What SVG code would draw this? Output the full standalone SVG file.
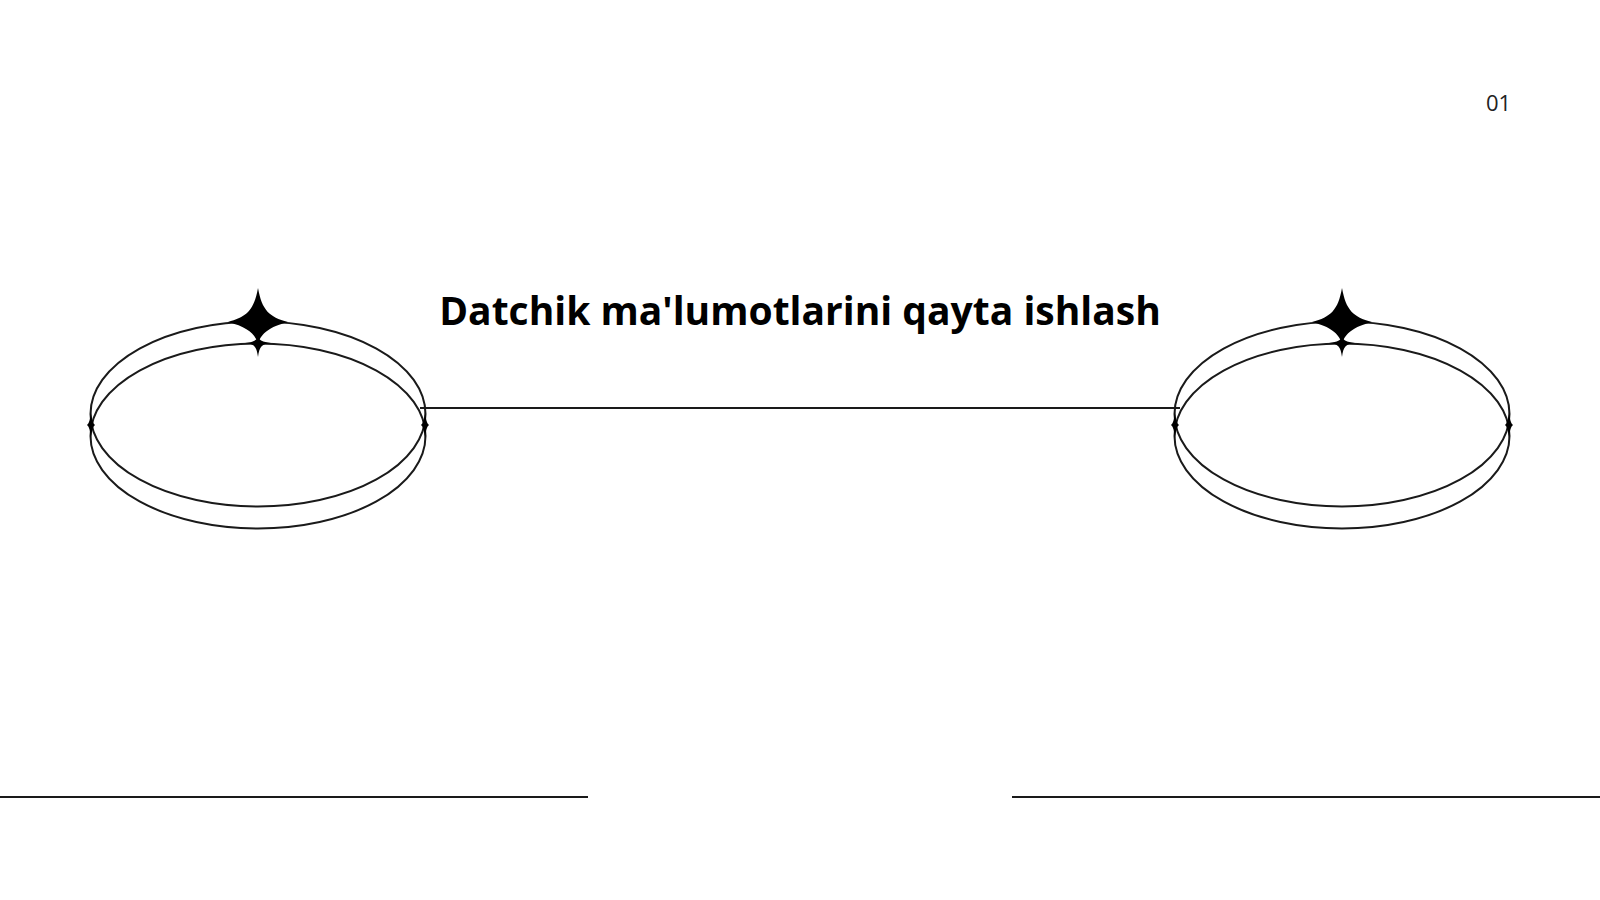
<svg xmlns="http://www.w3.org/2000/svg" width="1600" height="900" viewBox="0 0 1600 900">
<defs>
<style>
.ring{fill:none;stroke:#1a1a1a;stroke-width:2}
.ln{stroke:#1a1a1a;stroke-width:2}
.star{fill:#000}
.title{font-family:"Open Sans","Liberation Sans",sans-serif;font-weight:700;font-size:39px;fill:#000}
.num{font-family:"Open Sans","Liberation Sans",sans-serif;font-size:22px;font-weight:500;fill:#222}
</style>
<path id="bigstar" d="M0,-34 C4,-12 11,-5 30,0 C11,5 4,11 0,21 C-4,11 -11,5 -30,0 C-11,-5 -4,-12 0,-34Z"/>
<path id="smallstar" d="M0,-6 C1.5,-3 4,-1 13,0 C4,1 1.5,3 0,14 C-1.5,3 -4,1 -13,0 C-4,-1 -1.5,-3 0,-6Z"/>
<path id="sidestar" d="M0,-14 C0.8,-5 2,-1.5 4,0 C2,1.5 0.8,5 0,14 C-0.8,5 -2,1.5 -4,0 C-2,-1.5 -0.8,-5 0,-14Z"/>
</defs>
<rect width="1600" height="900" fill="#fff"/>
<g id="connectors">
<line class="ln" x1="420" y1="408" x2="1180" y2="408"/>
<line class="ln" x1="0" y1="797" x2="588" y2="797"/>
<line class="ln" x1="1012" y1="797" x2="1600" y2="797"/>
</g>
<g id="node-left">
<ellipse class="ring" cx="258" cy="414" rx="167.5" ry="92.5"/>
<ellipse class="ring" cx="258" cy="436" rx="167.5" ry="92.5"/>
<use href="#bigstar" class="star" x="258" y="322"/>
<use href="#smallstar" class="star" x="258" y="343"/>
<use href="#sidestar" class="star" x="91" y="425"/>
<use href="#sidestar" class="star" x="425" y="425"/>
</g>
<g id="node-right">
<ellipse class="ring" cx="1342" cy="414" rx="167.5" ry="92.5"/>
<ellipse class="ring" cx="1342" cy="436" rx="167.5" ry="92.5"/>
<use href="#bigstar" class="star" x="1342" y="322"/>
<use href="#smallstar" class="star" x="1342" y="343"/>
<use href="#sidestar" class="star" x="1175" y="425"/>
<use href="#sidestar" class="star" x="1509" y="425"/>
</g>
<g id="title">
<text class="title" x="800" y="325" text-anchor="middle">Datchik ma'lumotlarini qayta ishlash</text>
</g>
<g id="page-number">
<text class="num" x="1498.5" y="111" text-anchor="middle">01</text>
</g>
</svg>
